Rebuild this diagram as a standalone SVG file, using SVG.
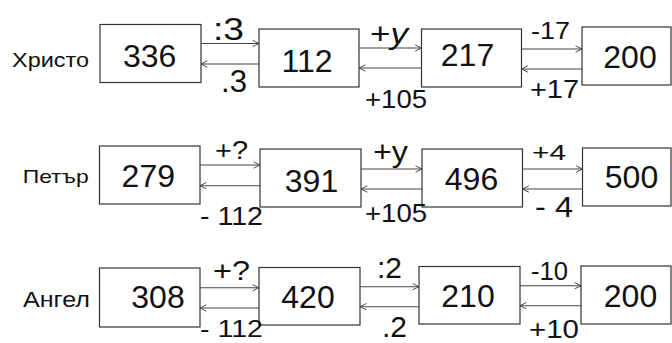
<svg xmlns="http://www.w3.org/2000/svg" width="672" height="343" viewBox="0 0 672 343">
<style>
  .box rect { fill: #fff; stroke: #333; stroke-width: 1.2; }
  .num { font-family: "Liberation Sans", Arial, sans-serif; font-size: 32px; fill: #111; text-anchor: middle; }
  .lbl { font-family: "Liberation Sans", Arial, sans-serif; fill: #111; }
  .conn line { stroke: #444; stroke-width: 1.1; fill: none; marker-end: url(#arr); }
</style>
<defs>
  <marker id="arr" viewBox="0 0 10 10" refX="9" refY="5" markerWidth="8" markerHeight="8" markerUnits="userSpaceOnUse" orient="auto">
    <path d="M1,1 L9,5 L1,9" fill="none" stroke="#444" stroke-width="1.2"/>
  </marker>
</defs>
<rect width="672" height="343" fill="#fff"/>

<!-- row labels -->
<g id="name-hristo"><text class="lbl" x="12" y="66.7" font-size="20" textLength="77" lengthAdjust="spacingAndGlyphs">Христо</text></g>
<g id="name-petar"><text class="lbl" x="22.7" y="183.3" font-size="19" textLength="66" lengthAdjust="spacingAndGlyphs">Петър</text></g>
<g id="name-angel"><text class="lbl" x="23" y="306.7" font-size="22" textLength="67" lengthAdjust="spacingAndGlyphs">Ангел</text></g>

<!-- row 1 -->
<g id="n336" class="box"><rect x="100" y="24.5" width="101" height="58"/><text class="num" x="149.7" y="66.7">336</text></g>
<g id="n112" class="box"><rect x="259" y="29" width="100" height="58"/><text class="num" x="307" y="71.7">112</text></g>
<g id="n217" class="box"><rect x="421.5" y="29" width="100" height="58"/><text class="num" x="467.5" y="66">217</text></g>
<g id="n200a" class="box"><rect x="582" y="27" width="89" height="58"/><text class="num" x="630" y="68.3">200</text></g>

<!-- row 2 -->
<g id="n279" class="box"><rect x="99.5" y="146" width="100.5" height="58"/><text class="num" x="148.3" y="186.7">279</text></g>
<g id="n391" class="box"><rect x="260" y="149" width="101" height="58"/><text class="num" x="311.5" y="191.7">391</text></g>
<g id="n496" class="box"><rect x="422" y="149" width="100.5" height="58"/><text class="num" x="471.5" y="190">496</text></g>
<g id="n500" class="box"><rect x="582.5" y="148" width="88.5" height="58"/><text class="num" x="631.5" y="188.3">500</text></g>

<!-- row 3 -->
<g id="n308" class="box"><rect x="99.5" y="268" width="100.5" height="59"/><text class="num" x="158" y="308.3">308</text></g>
<g id="n420" class="box"><rect x="259" y="267.5" width="101" height="57.5"/><text class="num" x="308" y="308.3">420</text></g>
<g id="n210" class="box"><rect x="419" y="266.5" width="101" height="57.5"/><text class="num" x="468" y="306.7">210</text></g>
<g id="n200b" class="box"><rect x="581" y="266" width="90" height="58"/><text class="num" x="630.5" y="306.7">200</text></g>

<!-- connectors -->
<g id="connectors" class="conn">
  <line x1="201" y1="43.5" x2="259" y2="43.5"/>
  <line x1="259" y1="64" x2="201" y2="64"/>
  <line x1="359" y1="48" x2="421.5" y2="48"/>
  <line x1="421.5" y1="68" x2="359" y2="68"/>
  <line x1="521.5" y1="49" x2="582" y2="49"/>
  <line x1="582" y1="69" x2="521.5" y2="69"/>

  <line x1="200" y1="165" x2="260" y2="165"/>
  <line x1="260" y1="185.7" x2="200" y2="185.7"/>
  <line x1="361" y1="169" x2="422" y2="169"/>
  <line x1="422" y1="189" x2="361" y2="189"/>
  <line x1="522.5" y1="169" x2="582.5" y2="169"/>
  <line x1="582.5" y1="189" x2="522.5" y2="189"/>

  <line x1="200" y1="287.7" x2="259" y2="287.7"/>
  <line x1="259" y1="308" x2="200" y2="308"/>
  <line x1="360" y1="286.7" x2="419" y2="286.7"/>
  <line x1="419" y1="306.7" x2="360" y2="306.7"/>
  <line x1="520" y1="285.7" x2="581" y2="285.7"/>
  <line x1="581" y1="305.7" x2="520" y2="305.7"/>
</g>

<!-- connector labels -->
<g id="labels">
  <text class="lbl" x="213" y="40" font-size="32" textLength="31" lengthAdjust="spacingAndGlyphs">:3</text>
  <text class="lbl" x="221" y="92" font-size="32" textLength="26" lengthAdjust="spacingAndGlyphs">.3</text>
  <text class="lbl" x="370" y="43.5" font-size="30" textLength="38" lengthAdjust="spacingAndGlyphs">+<tspan font-style="italic">y</tspan></text>
  <text class="lbl" x="365" y="108" font-size="26" textLength="62" lengthAdjust="spacingAndGlyphs">+105</text>
  <text class="lbl" x="531" y="39.3" font-size="24" textLength="39" lengthAdjust="spacingAndGlyphs">-17</text>
  <text class="lbl" x="530" y="98" font-size="26" textLength="49" lengthAdjust="spacingAndGlyphs">+17</text>

  <text class="lbl" x="215" y="159.3" font-size="25" textLength="33" lengthAdjust="spacingAndGlyphs">+?</text>
  <text class="lbl" x="200" y="225" font-size="26" textLength="63" lengthAdjust="spacingAndGlyphs">- 112</text>
  <text class="lbl" x="373" y="161.7" font-size="30" textLength="35" lengthAdjust="spacingAndGlyphs">+y</text>
  <text class="lbl" x="365" y="221.7" font-size="26" textLength="62" lengthAdjust="spacingAndGlyphs">+105</text>
  <text class="lbl" x="532" y="160" font-size="22" textLength="34" lengthAdjust="spacingAndGlyphs">+4</text>
  <text class="lbl" x="535" y="216.7" font-size="30" textLength="38" lengthAdjust="spacingAndGlyphs">- 4</text>

  <text class="lbl" x="213" y="280" font-size="27" textLength="37" lengthAdjust="spacingAndGlyphs">+?</text>
  <text class="lbl" x="200" y="337" font-size="24" textLength="63" lengthAdjust="spacingAndGlyphs">- 112</text>
  <text class="lbl" x="377" y="278.3" font-size="30" textLength="25" lengthAdjust="spacingAndGlyphs">:2</text>
  <text class="lbl" x="382" y="336.7" font-size="29" textLength="25" lengthAdjust="spacingAndGlyphs">.2</text>
  <text class="lbl" x="531" y="280" font-size="25" textLength="37" lengthAdjust="spacingAndGlyphs">-10</text>
  <text class="lbl" x="529" y="338" font-size="26" textLength="50" lengthAdjust="spacingAndGlyphs">+10</text>
</g>
</svg>
